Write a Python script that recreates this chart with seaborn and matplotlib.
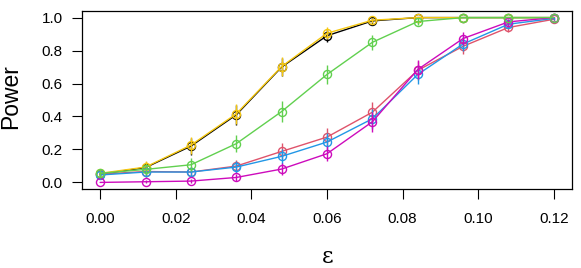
import numpy as np
import pandas as pd
import matplotlib
matplotlib.use("Agg")
import matplotlib.pyplot as plt
import seaborn as sns

eps = [0.0, 0.012, 0.024, 0.036, 0.048, 0.06, 0.072, 0.084, 0.096, 0.108, 0.12]
black = [0.05, 0.09, 0.22, 0.41, 0.70, 0.89, 0.98, 1.0, 1.0, 1.0, 1.0]
yellow = [0.055, 0.093, 0.226, 0.416, 0.703, 0.905, 0.984, 1.0, 1.0, 1.0, 1.0]
red = [0.05, 0.066, 0.063, 0.099, 0.188, 0.275, 0.426, 0.68, 0.826, 0.94, 0.99]
blue = [0.045, 0.063, 0.063, 0.093, 0.158, 0.245, 0.386, 0.655, 0.84, 0.96, 0.995]
magenta = [0.0, 0.004, 0.008, 0.03, 0.081, 0.174, 0.368, 0.685, 0.873, 0.974, 1.0]
green = [0.055, 0.079, 0.107, 0.235, 0.43, 0.655, 0.85, 0.976, 1.0, 1.0, 1.0]

series_names = ["black", "yellow", "red", "blue", "magenta", "green"]
series_values = [black, yellow, red, blue, magenta, green]
series_colors = ["#000000", "#F5C710", "#DF536B", "#2297E6", "#CD0BBC", "#61D04F"]
n_sim = 250

xticks = [0.00, 0.02, 0.04, 0.06, 0.08, 0.10, 0.12]
xtick_labels = ["0.00", "0.02", "0.04", "0.06", "0.08", "0.10", "0.12"]
yticks = [0.0, 0.2, 0.4, 0.6, 0.8, 1.0]
ytick_labels = ["0.0", "0.2", "0.4", "0.6", "0.8", "1.0"]

sns.set_theme(style="white")
plt.rcParams["font.family"] = ["Liberation Sans", "DejaVu Sans"]

fig = plt.figure(figsize=(5.81, 2.68), dpi=100)
ax = fig.add_axes([82 / 581, 1 - 189 / 268, (572 - 82) / 581, (189 - 11) / 268])

for name, vals, col in zip(series_names, series_values, series_colors):
    df = pd.DataFrame({"eps": eps, "power": vals})
    p = np.array(vals)
    err = 1.96 * np.sqrt(p * (1 - p) / n_sim)
    ax.errorbar(df["eps"], df["power"], yerr=err, fmt="none", ecolor=col, elinewidth=1.0, capsize=0)
    sns.lineplot(data=df, x="eps", y="power", ax=ax, color=col, lw=1.0,
                 marker="o", markersize=5.8, markerfacecolor="none",
                 markeredgecolor=col, markeredgewidth=1.0)

ax.set_xlim(-0.0048, 0.1248)
ax.set_ylim(-0.04, 1.04)
ax.set_xticks(xticks)
ax.set_xticklabels(xtick_labels)
ax.set_yticks(yticks)
ax.set_yticklabels(ytick_labels)
ax.tick_params(axis="both", which="both", direction="out", length=7.2, width=0.8,
               color="black", labelsize=11, labelcolor="black",
               bottom=True, left=True)
ax.tick_params(axis="x", pad=9.5)
ax.tick_params(axis="y", pad=6.5)
for s in ax.spines.values():
    s.set_color("black")
    s.set_linewidth(0.9)

ax.set_xlabel("")
ax.set_ylabel("")
fig.text(11 / 581, 1 - 97 / 268, "Power", rotation=90, fontsize=16.5,
         ha="center", va="center", color="black")
fig.text(328 / 581, 1 - 257 / 268, "ε", fontsize=16, family="DejaVu Serif",
         ha="center", va="center", color="black")

fig.savefig("out.png", dpi=100)
